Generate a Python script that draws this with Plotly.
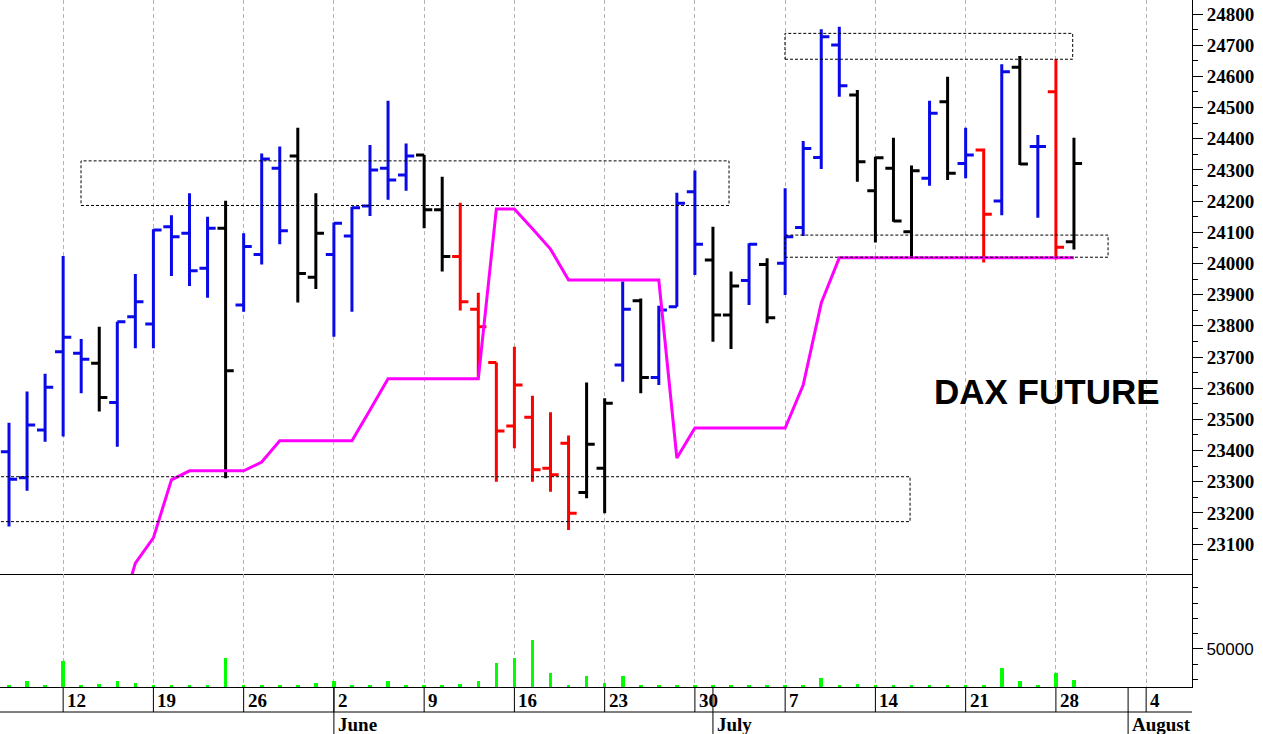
import plotly.graph_objects as go
import pandas as pd

# ---------------- data ----------------
calendar = pd.bdate_range("2025-05-07", "2025-08-08")   # trading-day slots
N_BARS = 60                                             # 7 May .. 29 Jul 2025

opens = [23396, 23313, 23466, 23717, 23712, 23680, 23554, 23829, 23806, 24118,
         24097, 23985, 24113, 23867, 24029, 24305, 24345, 23956, 24029, 24088,
         24184, 24305, 24284, 24348, 24172, 24022, 23853, 23682, 23479, 23507,
         23343, 23423, 23265, 23343, 23674, 23880, 23634, 23861, 24230, 24011,
         23835, 23945, 23997, 24001, 24115, 24340, 24701, 24540, 24233, 24305,
         24102, 24273, 24519, 24321, 24364, 24200, 24629, 24375, 24551, 24070]
highs = [23489, 23589, 23646, 24024, 23758, 23797, 23813, 23966, 24110, 24155,
         24225, 24150, 24201, 24097, 24353, 24375, 24435, 24225, 24131, 24182,
         24380, 24522, 24385, 24348, 24278, 24195, 23906, 23682, 23733, 23576,
         23523, 23448, 23618, 23568, 23942, 23888, 23864, 24227, 24298, 24118,
         23974, 24065, 24017, 24241, 24393, 24751, 24759, 24556, 24342, 24403,
         24314, 24522, 24599, 24435, 24369, 24639, 24665, 24412, 24655, 24403]
lows = [23156, 23271, 23428, 23445, 23584, 23525, 23412, 23728, 23728, 23960,
        23928, 23890, 23311, 23845, 23997, 24062, 23875, 23918, 23765, 23845,
        24152, 24204, 24233, 24113, 23974, 23849, 23633, 23300, 23407, 23300,
        23268, 23145, 23247, 23199, 23621, 23584, 23610, 23861, 23963, 23749,
        23726, 23867, 23808, 23899, 24088, 24303, 24535, 24262, 24067, 24134,
        24020, 24249, 24268, 24273, 24003, 24155, 24316, 24147, 24013, 24045]
closes = [23308, 23482, 23603, 23763, 23693, 23570, 23813, 23877, 24107, 24086,
          23977, 24113, 23656, 24054, 24335, 24105, 23968, 24097, 24129, 24179,
          24300, 24268, 24345, 24172, 24022, 23877, 23797, 23463, 23610, 23338,
          23322, 23199, 23420, 23552, 23853, 23634, 23851, 24193, 24062, 23835,
          23928, 24062, 23826, 24086, 24369, 24727, 24570, 24326, 24339, 24136,
          24297, 24482, 24289, 24348, 24158, 24615, 24319, 24375, 24052, 24321]
bar_state = ["B", "B", "B", "B", "B", "K", "B", "B", "B", "B",
             "B", "B", "K", "B", "B", "B", "K", "K", "B", "B",
             "B", "B", "B", "K", "K", "R", "R", "R", "R", "R",
             "R", "R", "K", "K", "B", "K", "B", "B", "B", "K",
             "K", "B", "K", "B", "B", "B", "B", "K", "K", "K",
             "K", "B", "K", "B", "R", "B", "K", "B", "R", "K"]
stop_line = [None, None, None, None, None, None, 22840, 23039, 23120, 23306,
             23335, 23335, 23335, 23335, 23363, 23431, 23431, 23431, 23431, 23431,
             23530, 23630, 23630, 23630, 23630, 23630, 23630, 24175, 24175, 24111,
             24046, 23947, 23947, 23947, 23947, 23947, 23947, 23376, 23472, 23472,
             23472, 23472, 23472, 23472, 23610, 23873, 24018, 24018, 24018, 24018,
             24018, 24018, 24018, 24018, 24018, 24018, 24018, 24018, 24018, 24018]
volume = [26000, 28800, 26000, 42000, 26000, 26800, 28800, 27700, 26000, 26000,
          26000, 26000, 44300, 26000, 26000, 26000, 26000, 27700, 28800, 26000,
          26000, 28800, 26000, 26000, 26000, 26800, 28800, 41000, 44300, 55500,
          34300, 26000, 32300, 27900, 32300, 26000, 26000, 26000, 26000, 26000,
          26000, 26000, 26000, 26000, 26000, 31000, 26000, 26800, 26000, 26000,
          26000, 26000, 26000, 26000, 26000, 37600, 28800, 26000, 34300, 29600]

week_labels = ["12", "19", "26", "2", "9", "16", "23", "30", "7", "14", "21", "28", "4"]
week_dates = ["2025-05-12", "2025-05-19", "2025-05-26", "2025-06-02", "2025-06-09",
              "2025-06-16", "2025-06-23", "2025-06-30", "2025-07-07", "2025-07-14",
              "2025-07-21", "2025-07-28", "2025-08-04"]
month_labels = ["June", "July", "August"]
month_dates = ["2025-06-02", "2025-07-01", "2025-08-01"]

# zones: (start slot, end slot, low, high)
zones = [(3.99, 39.89, 24186, 24329),
         (-1.0, 49.92, 23172, 23316),
         (42.99, 58.93, 24655, 24738),
         (42.99, 60.89, 24020, 24091)]

# ---------------- helpers ----------------
slot = {d.strftime("%Y-%m-%d"): i for i, d in enumerate(calendar)}
xs = list(range(N_BARS))
week_x = [slot[d] for d in week_dates]
month_x = [slot[d] for d in month_dates]

COLORS = {"B": "#0a0ae8", "K": "#000000", "R": "#ff0000"}
PLOT_H = 734 - 47
VOL_FRAC = 113 / PLOT_H
X_RANGE = [-0.4986, 65.54]

fig = go.Figure()

for code, col in COLORS.items():
    idx = [i for i in xs if bar_state[i] == code]
    fig.add_trace(go.Ohlc(
        x=idx,
        open=[opens[i] for i in idx], high=[highs[i] for i in idx],
        low=[lows[i] for i in idx], close=[closes[i] for i in idx],
        increasing=dict(line=dict(color=col, width=3)),
        decreasing=dict(line=dict(color=col, width=3)),
        tickwidth=0.45, xaxis="x", yaxis="y", showlegend=False, hoverinfo="skip"))

fig.add_trace(go.Scatter(x=xs, y=stop_line, mode="lines",
                         line=dict(color="#ff00ff", width=3),
                         xaxis="x", yaxis="y", showlegend=False, hoverinfo="skip"))

fig.add_trace(go.Bar(x=xs, y=volume, marker=dict(color="#00ff00", line=dict(width=0)),
                     width=0.2, xaxis="x2", yaxis="y2", showlegend=False, hoverinfo="skip"))

shapes = []
for x0, x1, lo, hi in zones:
    shapes.append(dict(type="rect", xref="x", yref="y", x0=x0, x1=x1, y0=lo, y1=hi,
                       line=dict(color="black", width=1, dash="3px,2px"),
                       fillcolor="rgba(0,0,0,0)", layer="above"))
row1 = -25 / PLOT_H
row2 = -47 / PLOT_H
for wx in week_x:
    shapes.append(dict(type="line", xref="x", yref="paper", x0=wx, x1=wx, y0=0, y1=row1,
                       line=dict(color="black", width=1)))
for mx in month_x:
    shapes.append(dict(type="line", xref="x", yref="paper", x0=mx, x1=mx, y0=0, y1=row2,
                       line=dict(color="black", width=1)))
shapes.append(dict(type="line", xref="paper", yref="paper", x0=0, x1=1, y0=row1, y1=row1,
                   line=dict(color="black", width=1)))

serif = dict(family="Liberation Serif", size=19, color="black", weight="bold")
annotations = []
for wx, lab in zip(week_x, week_labels):
    annotations.append(dict(x=wx, y=0, xref="x", yref="paper", text=lab, showarrow=False,
                            xanchor="left", yanchor="top", xshift=2, yshift=-1, font=serif))
for mx, lab in zip(month_x, month_labels):
    annotations.append(dict(x=mx, y=0, xref="x", yref="paper", text=lab, showarrow=False,
                            xanchor="left", yanchor="top", xshift=2, yshift=-25, font=serif))
annotations.append(dict(x=57.5, y=23590, xref="x", yref="y", text="DAX FUTURE", showarrow=False,
                        xanchor="center", yanchor="middle",
                        font=dict(family="Liberation Sans", size=35, color="black", weight="bold")))

xaxis_common = dict(range=X_RANGE, showticklabels=False, ticks="", tickmode="array",
                    tickvals=week_x, showgrid=True, gridcolor="#b4b4b4", gridwidth=1,
                    griddash="4px,3px", showline=True, linecolor="black", linewidth=1,
                    zeroline=False, fixedrange=True)

fig.update_layout(
    width=1263, height=734,
    margin=dict(l=0, r=71, t=0, b=47),
    paper_bgcolor="white", plot_bgcolor="white", showlegend=False,
    bargap=0,
    xaxis=dict(domain=[0, 1], anchor="y", rangeslider=dict(visible=False), **xaxis_common),
    xaxis2=dict(domain=[0, 1], anchor="y2", matches="x", **xaxis_common),
    yaxis=dict(domain=[VOL_FRAC, 1], anchor="x", side="right", range=[23004, 24845],
               tick0=0, dtick=100, tickformat="d", ticks="outside", ticklen=10,
               tickcolor="black", showline=True, linecolor="black", linewidth=1,
               showgrid=False, zeroline=False, tickfont=serif,
               minor=dict(tick0=0, dtick=50, ticks="outside", ticklen=5, tickcolor="black")),
    yaxis2=dict(domain=[0, VOL_FRAC], anchor="x2", side="right", range=[25000, 99000],
                tickmode="array", tickvals=[50000], ticktext=["50000"], ticks="outside",
                ticklen=10, tickcolor="black", showline=True, linecolor="black", linewidth=1,
                showgrid=False, zeroline=False,
                tickfont=dict(family="Liberation Sans", size=17, color="black"),
                minor=dict(tickmode="linear", tick0=0, dtick=10000, ticks="outside",
                           ticklen=5, tickcolor="black")),
    shapes=shapes,
    annotations=annotations,
)

fig.write_html("out.html",
               config={"displayModeBar": False, "staticPlot": True},
               post_script="document.body.style.margin='0px';document.body.style.overflow='hidden';")
